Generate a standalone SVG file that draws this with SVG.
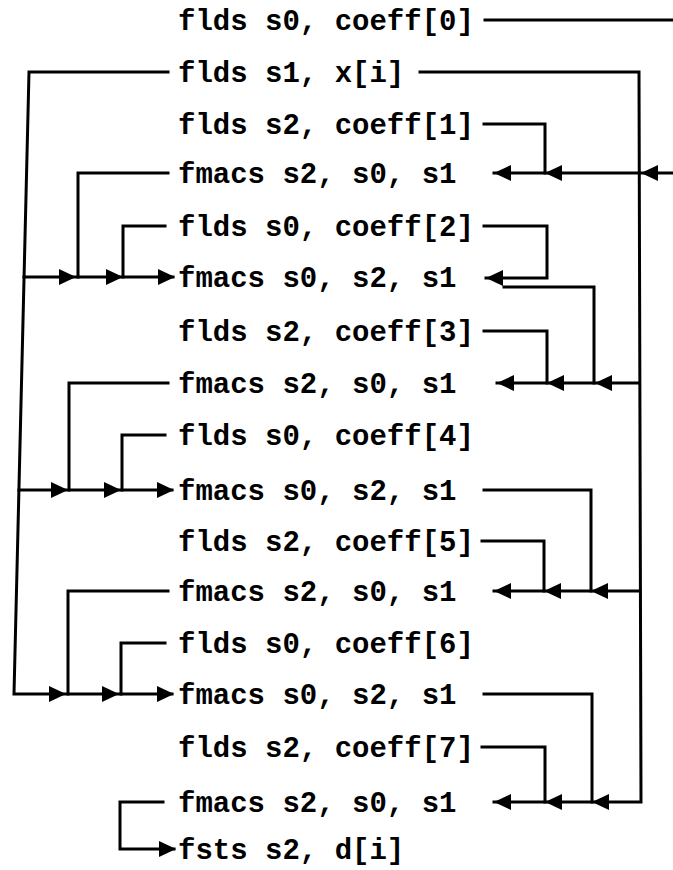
<svg xmlns="http://www.w3.org/2000/svg" xmlns:xlink="http://www.w3.org/1999/xlink" width="673" height="870" viewBox="0 0 673 870">
<style>
  .t { font-family: "Liberation Mono", "DejaVu Sans Mono", monospace; font-weight: bold; font-size: 29px; fill: #000; }
  .c { fill: none; stroke: #000; stroke-width: 3; stroke-linejoin: miter; stroke-linecap: square; }
  .a { fill: #000; stroke: none; }
</style>
<defs>
  <path id="al" class="a" d="M0,0 L17,-8 L17,8 Z"/>
  <path id="ar" class="a" d="M0,0 L-17,-8 L-17,8 Z"/>
</defs>
<rect width="673" height="870" fill="#fff"/>

<g id="r0"><text class="t" x="178" y="30">flds s0, coeff[0]</text></g>
<g id="r1"><text class="t" x="178" y="82">flds s1, x[i]</text></g>
<g id="r2"><text class="t" x="178" y="134">flds s2, coeff[1]</text></g>
<g id="r3"><text class="t" x="178" y="183">fmacs s2, s0, s1</text></g>
<g id="r4"><text class="t" x="178" y="236">flds s0, coeff[2]</text></g>
<g id="r5"><text class="t" x="178" y="287">fmacs s0, s2, s1</text></g>
<g id="r6"><text class="t" x="178" y="341">flds s2, coeff[3]</text></g>
<g id="r7"><text class="t" x="178" y="393">fmacs s2, s0, s1</text></g>
<g id="r8"><text class="t" x="178" y="445">flds s0, coeff[4]</text></g>
<g id="r9"><text class="t" x="178" y="500">fmacs s0, s2, s1</text></g>
<g id="r10"><text class="t" x="178" y="551">flds s2, coeff[5]</text></g>
<g id="r11"><text class="t" x="178" y="601">fmacs s2, s0, s1</text></g>
<g id="r12"><text class="t" x="178" y="653">flds s0, coeff[6]</text></g>
<g id="r13"><text class="t" x="178" y="704">fmacs s0, s2, s1</text></g>
<g id="r14"><text class="t" x="178" y="757">flds s2, coeff[7]</text></g>
<g id="r15"><text class="t" x="178" y="812">fmacs s2, s0, s1</text></g>
<g id="r16"><text class="t" x="178" y="859">fsts s2, d[i]</text></g>

<g id="connectors">
  <!-- right side -->
  <path class="c" d="M485,20 H673"/>
  <path class="c" d="M420,72 H639 L641,802 H494"/>
  <path class="c" d="M484,124 H545 V173"/>
  <path class="c" d="M673,173 H494"/>
  <path class="c" d="M484,226 H547 V278 H486"/>
  <path class="c" d="M504,287 H594 V383"/>
  <path class="c" d="M484,331 H547 V383"/>
  <path class="c" d="M639,383 H497"/>
  <path class="c" d="M484,490 H591 V591"/>
  <path class="c" d="M482,541 H544 V591"/>
  <path class="c" d="M640,591 H494"/>
  <path class="c" d="M484,694 H592 V802"/>
  <path class="c" d="M482,747 H545 V802"/>

  <!-- left side -->
  <path class="c" d="M168,72 H29 L14,694 H172"/>
  <path class="c" d="M24,277 H173"/>
  <path class="c" d="M19,490 H172"/>
  <path class="c" d="M168,173 H78 V277"/>
  <path class="c" d="M165,226 H123 V277"/>
  <path class="c" d="M168,383 H69 V490"/>
  <path class="c" d="M165,435 H122 V490"/>
  <path class="c" d="M168,591 H68 V694"/>
  <path class="c" d="M165,643 H121 V694"/>
  <path class="c" d="M163,802 H120 V849 H174"/>

  <!-- arrowheads pointing left -->
  <use xlink:href="#al" x="494" y="173"/>
  <use xlink:href="#al" x="545" y="173"/>
  <use xlink:href="#al" x="641" y="173"/>
  <use xlink:href="#al" x="486" y="278"/>
  <use xlink:href="#al" x="497" y="383"/>
  <use xlink:href="#al" x="547" y="383"/>
  <use xlink:href="#al" x="595" y="383"/>
  <use xlink:href="#al" x="494" y="591"/>
  <use xlink:href="#al" x="544" y="591"/>
  <use xlink:href="#al" x="591" y="591"/>
  <use xlink:href="#al" x="494" y="802"/>
  <use xlink:href="#al" x="545" y="802"/>
  <use xlink:href="#al" x="592" y="802"/>

  <!-- arrowheads pointing right -->
  <use xlink:href="#ar" x="76" y="277"/>
  <use xlink:href="#ar" x="123" y="277"/>
  <use xlink:href="#ar" x="175" y="277"/>
  <use xlink:href="#ar" x="68" y="490"/>
  <use xlink:href="#ar" x="121" y="490"/>
  <use xlink:href="#ar" x="174" y="490"/>
  <use xlink:href="#ar" x="66" y="694"/>
  <use xlink:href="#ar" x="119" y="694"/>
  <use xlink:href="#ar" x="174" y="694"/>
  <use xlink:href="#ar" x="176" y="849"/>
</g>
</svg>
